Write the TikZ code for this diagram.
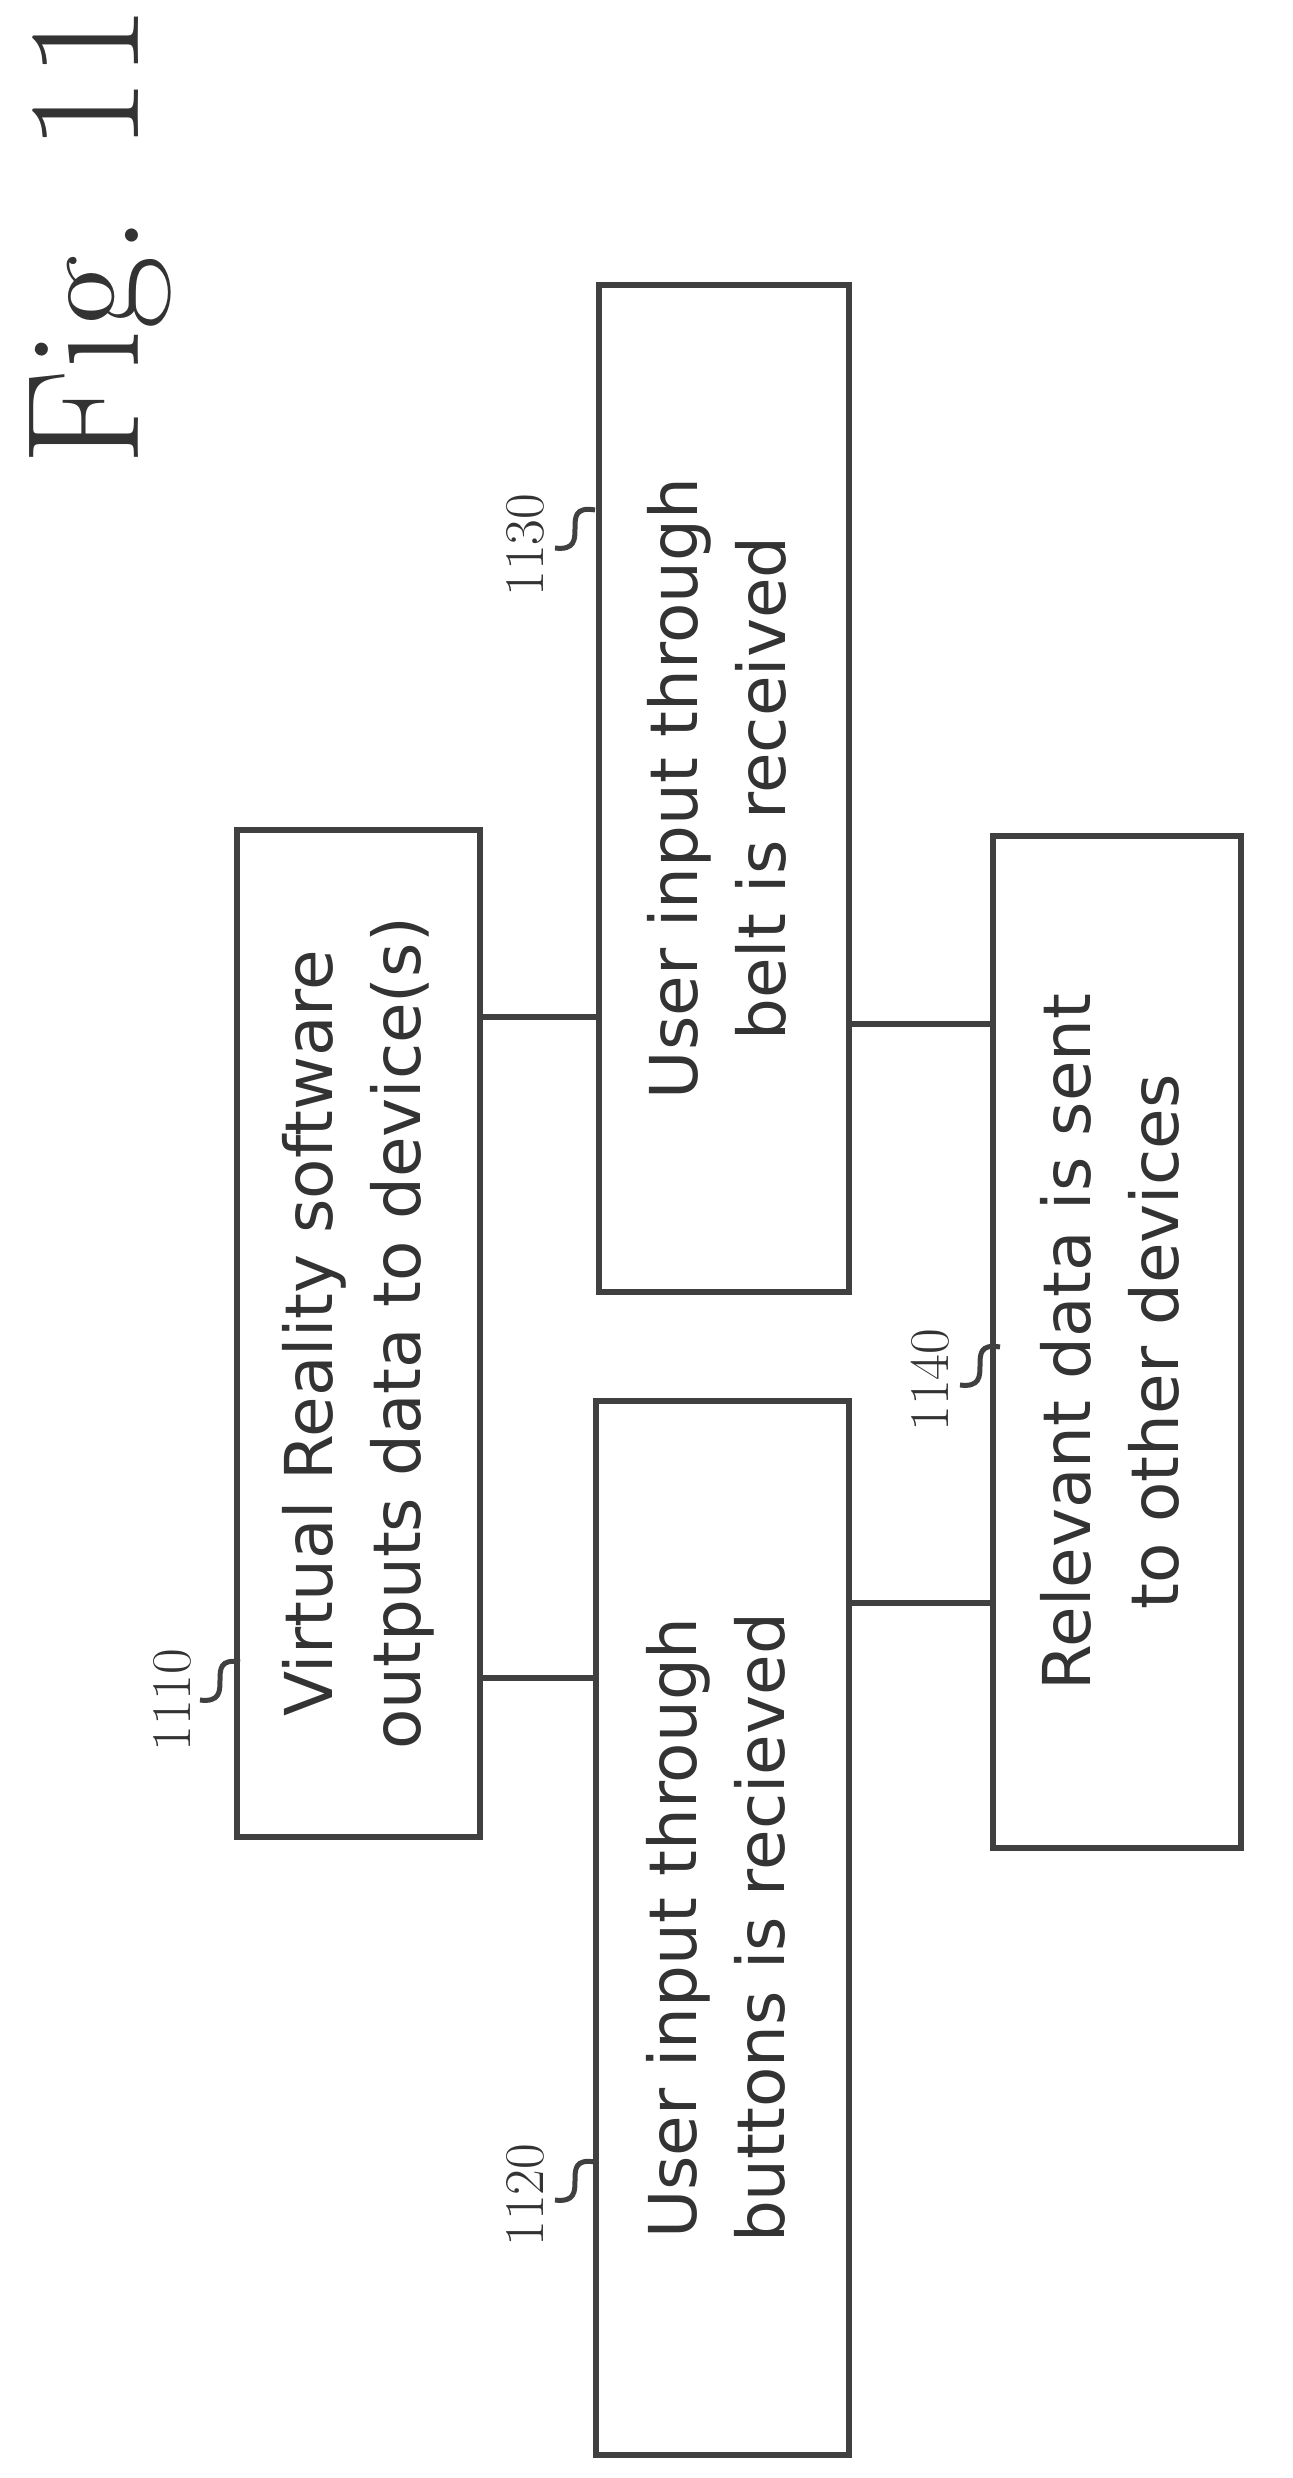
\documentclass[tikz,border=0pt]{standalone}
\usepackage{fontspec}
\setsansfont{DejaVu Sans}
\usepackage{graphicx}
\begin{document}
\begin{tikzpicture}[x=0.5pt,y=-0.5pt,
  box/.style={draw=black!75,line width=3pt,inner sep=0pt,font=\sffamily\fontsize{33}{44}\selectfont,text=black!80},
  conn/.style={draw=black!75,line width=3pt},
  lab/.style={font=\fontsize{28}{30}\selectfont,rotate=90,text=black!80},
  sq/.style={draw=black!75,line width=2.5pt}]
\useasboundingbox (0,0) rectangle (1292,2478);
\node[box,minimum width=121.5pt,minimum height=503.5pt] (b1) at (358.5,1333.5)
 {\rotatebox{90}{\begin{tabular}{c}Virtual Reality software\\outputs data to device(s)\end{tabular}}};
\node[box,minimum width=126.5pt,minimum height=527pt] (b2) at (722.5,1928)
 {\rotatebox{90}{\begin{tabular}{c}User input through\\buttons is recieved\end{tabular}}};
\node[box,minimum width=125pt,minimum height=503.5pt] (b3) at (724,788.5)
 {\rotatebox{90}{\begin{tabular}{c}User input through\\belt is received\end{tabular}}};
\node[box,minimum width=124pt,minimum height=506pt] (b4) at (1117,1342)
 {\rotatebox{90}{\begin{tabular}{c}Relevant data is sent\\to other devices\end{tabular}}};
\draw[conn] (b1.east |- 0,1678) -- (b2.west |- 0,1678);
\draw[conn] (b1.east |- 0,1017) -- (b3.west |- 0,1017);
\draw[conn] (b2.east |- 0,1603) -- (b4.west |- 0,1603);
\draw[conn] (b3.east |- 0,1024) -- (b4.west |- 0,1024);
\node[lab] (l1) at (172,1700) {1110};
\node[lab] (l2) at (525,2195) {1120};
\node[lab] (l3) at (525,545) {1130};
\node[lab] (l4) at (930,1380) {1140};
\draw[sq] (200,1700) .. controls (240,1705) and (200,1655) .. (240,1662);
\draw[sq] (555,2200) .. controls (595,2205) and (555,2155) .. (595,2162);
\draw[sq] (555,548) .. controls (595,553) and (555,503) .. (595,510);
\draw[sq] (960,1385) .. controls (1000,1390) and (960,1340) .. (1000,1347);
\node[rotate=90,font=\fontsize{80}{80}\selectfont,text=black!80] (fig) at (100,235) {Fig. 11};
\end{tikzpicture}
\end{document}
